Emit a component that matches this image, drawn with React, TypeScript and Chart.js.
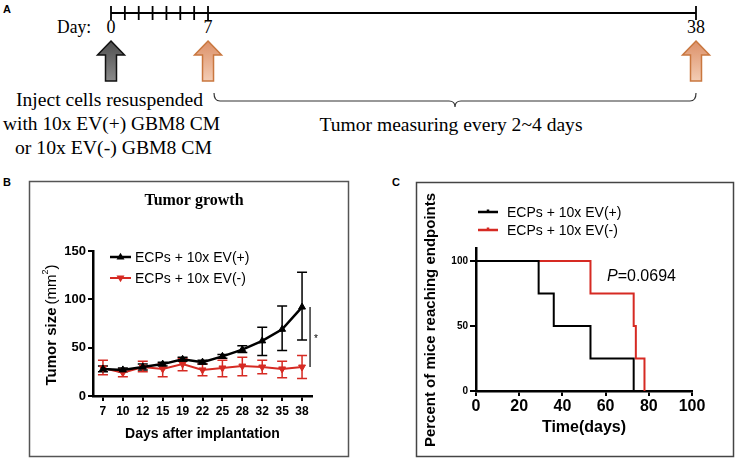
import React, { useEffect, useRef } from "react";
import { Chart, registerables } from "chart.js";

Chart.register(...registerables);

const SANS = "'Liberation Sans', Arial, sans-serif";
const SERIF = "'Liberation Serif', 'Times New Roman', serif";
const RED = "#d62a23";
const BLACK = "#000000";

// ---------- Panel A (timeline schematic) ----------
const timelineTickDays = [0, 1, 2, 3, 4, 5, 6, 7, 38];
const timelineLabelDays = [0, 7, 38];
const injectionDays = [0];
const measureDays = [7, 38];

// ---------- Panel B (tumor growth) ----------
const growthDays = ["7", "10", "12", "15", "19", "22", "25", "28", "32", "35", "38"];
const evPlusMean = [28, 27, 30, 33, 38, 35, 41, 48, 57, 69, 92];
const evPlusLow = [25, 25, 27, 31, 36, 33, 39, 45, 42, 47, 58];
const evPlusHigh = [31, 29, 33, 35, 40, 37, 43, 52, 71, 93, 128];
const evMinusMean = [29, 24, 30, 28, 33, 27, 29, 31, 30, 28, 30];
const evMinusLow = [22, 20, 25, 20, 26, 21, 20, 21, 23, 19, 18];
const evMinusHigh = [37, 28, 36, 34, 39, 33, 37, 40, 37, 36, 42];
const growthYTicks = [0, 50, 100, 150];

// ---------- Panel C (Kaplan-Meier) ----------
const kmPlusTime = [0, 29, 36, 53, 73];
const kmPlusPct = [100, 75, 50, 25, 0];
const kmMinusTime = [0, 53, 73, 74, 78];
const kmMinusPct = [100, 75, 50, 25, 0];
const kmYTicks = [0, 50, 100];
const seriesLabels = ["ECPs + 10x EV(+)", "ECPs + 10x EV(-)"];
const pValueText = "0.0694";

// timeline mapping for schematic (non-linear: days 0-7 expanded)
const tlX = (d: number) => (d <= 7 ? 111 + d * 13.86 : 208 + ((d - 7) / 31) * 488);

function Arrow({ cx, fill, stroke }: { cx: number; fill: string; stroke: string }) {
  const d = `M${cx},41 L${cx + 13.5},55 L${cx + 5.5},55 L${cx + 5.5},81 L${cx - 5.5},81 L${cx - 5.5},55 L${cx - 13.5},55 Z`;
  return <path d={d} fill={fill} stroke={stroke} strokeWidth={1.5} strokeLinejoin="miter" />;
}

function drawTriangle(ctx: CanvasRenderingContext2D, x: number, y: number, r: number, down: boolean) {
  const s = down ? -1 : 1;
  ctx.beginPath();
  ctx.moveTo(x, y - s * r);
  ctx.lineTo(x + r * 0.95, y + s * r * 0.6);
  ctx.lineTo(x - r * 0.95, y + s * r * 0.6);
  ctx.closePath();
  ctx.fill();
}

const growthPlugin = {
  id: "growthDecor",
  beforeDatasetsDraw(chart: any) {
    const { ctx } = chart;
    const x = chart.scales.x;
    const y = chart.scales.y;
    const draw = (lo: number[], hi: number[], color: string) => {
      ctx.save();
      ctx.strokeStyle = color;
      ctx.lineWidth = 1.5;
      lo.forEach((l, i) => {
        const px = x.getPixelForValue(i);
        const pl = y.getPixelForValue(l);
        const ph = y.getPixelForValue(hi[i]);
        ctx.beginPath();
        ctx.moveTo(px, pl);
        ctx.lineTo(px, ph);
        ctx.moveTo(px - 5, pl);
        ctx.lineTo(px + 5, pl);
        ctx.moveTo(px - 5, ph);
        ctx.lineTo(px + 5, ph);
        ctx.stroke();
      });
      ctx.restore();
    };
    draw(evMinusLow, evMinusHigh, RED);
    draw(evPlusLow, evPlusHigh, BLACK);
  },
  afterDraw(chart: any) {
    const { ctx, chartArea } = chart;
    const x = chart.scales.x;
    const y = chart.scales.y;
    ctx.save();
    // title
    ctx.fillStyle = "#000";
    ctx.font = `bold 16px ${SERIF}`;
    ctx.textAlign = "center";
    ctx.textBaseline = "middle";
    ctx.fillText("Tumor growth", 165, 20);

    // legend
    const legendRows = [
      { y: 76, color: BLACK, down: false, lw: 2.5 },
      { y: 97, color: RED, down: true, lw: 2 },
    ];
    legendRows.forEach((r, i) => {
      ctx.strokeStyle = r.color;
      ctx.fillStyle = r.color;
      ctx.lineWidth = r.lw;
      ctx.beginPath();
      ctx.moveTo(81, r.y);
      ctx.lineTo(102, r.y);
      ctx.stroke();
      drawTriangle(ctx, 91.5, r.y, 4.2, r.down);
      ctx.fillStyle = "#000";
      ctx.font = `14px ${SANS}`;
      ctx.textAlign = "left";
      ctx.textBaseline = "middle";
      ctx.fillText(seriesLabels[i], 106, r.y + 1);
    });

    // significance bar
    const last = growthDays.length - 1;
    const sx = x.getPixelForValue(last) + 8;
    const y1 = y.getPixelForValue(evPlusMean[last]);
    const y2 = y.getPixelForValue(evMinusMean[last]);
    ctx.strokeStyle = "#000";
    ctx.lineWidth = 1.2;
    ctx.beginPath();
    ctx.moveTo(sx, y1);
    ctx.lineTo(sx, y2);
    ctx.stroke();
    ctx.fillStyle = "#000";
    ctx.font = `10px ${SANS}`;
    ctx.textAlign = "left";
    ctx.textBaseline = "middle";
    ctx.fillText("*", sx + 4, (y1 + y2) / 2 + 2);

    // x title
    ctx.font = `bold 14px ${SANS}`;
    ctx.textAlign = "center";
    ctx.textBaseline = "middle";
    ctx.fillText("Days after implantation", (chartArea.left + chartArea.right) / 2, 253);

    // y title
    ctx.translate(22, 144);
    ctx.rotate(-Math.PI / 2);
    const pieces = [
      { t: "Tumor size", f: `bold 15px ${SANS}`, dy: 0 },
      { t: "\u2009(mm", f: `15px ${SANS}`, dy: 0 },
      { t: "2", f: `9px ${SANS}`, dy: -6 },
      { t: ")", f: `15px ${SANS}`, dy: 0 },
    ];
    let total = 0;
    const widths = pieces.map((p) => {
      ctx.font = p.f;
      const w = ctx.measureText(p.t).width;
      total += w;
      return w;
    });
    let cx = -total / 2;
    ctx.textAlign = "left";
    ctx.textBaseline = "middle";
    pieces.forEach((p, i) => {
      ctx.font = p.f;
      ctx.fillText(p.t, cx, p.dy + 1);
      cx += widths[i];
    });
    ctx.restore();
  },
};

const kmPlugin = {
  id: "kmDecor",
  afterDraw(chart: any) {
    const { ctx, chartArea } = chart;
    ctx.save();
    const rows = [
      { y: 30, color: BLACK },
      { y: 48, color: RED },
    ];
    rows.forEach((r, i) => {
      ctx.strokeStyle = r.color;
      ctx.lineWidth = 2.5;
      ctx.beginPath();
      ctx.moveTo(62, r.y);
      ctx.lineTo(82, r.y);
      ctx.moveTo(72, r.y - 2.5);
      ctx.lineTo(72, r.y);
      ctx.stroke();
      ctx.fillStyle = "#000";
      ctx.font = `14px ${SANS}`;
      ctx.textAlign = "left";
      ctx.textBaseline = "middle";
      ctx.fillText(seriesLabels[i], 91, r.y + 1);
    });

    // P value
    ctx.font = `italic 16px ${SANS}`;
    ctx.textAlign = "left";
    ctx.textBaseline = "middle";
    ctx.fillText("P", 191, 95);
    const pw = ctx.measureText("P").width;
    ctx.font = `16px ${SANS}`;
    ctx.fillText("=" + pValueText, 191 + pw, 95);

    // x title
    ctx.font = `bold 16px ${SANS}`;
    ctx.textAlign = "center";
    ctx.fillText("Time(days)", (chartArea.left + chartArea.right) / 2, 246);

    // y title
    ctx.translate(14, 138);
    ctx.rotate(-Math.PI / 2);
    ctx.font = `bold 15px ${SANS}`;
    ctx.fillText("Percent of mice reaching endpoints", 0, 1);
    ctx.restore();
  },
};

export default function App() {
  const growthRef = useRef<HTMLCanvasElement>(null);
  const kmRef = useRef<HTMLCanvasElement>(null);

  useEffect(() => {
    Chart.defaults.font.family = SANS;
    Chart.defaults.color = "#000";

    const axisGrid = (len: number) => ({
      drawOnChartArea: false,
      drawTicks: true,
      tickLength: len,
      color: "#000",
      lineWidth: 2,
    });

    const growth = new Chart(growthRef.current!, {
      type: "line",
      data: {
        labels: growthDays,
        datasets: [
          {
            label: seriesLabels[0],
            data: evPlusMean,
            borderColor: BLACK,
            backgroundColor: BLACK,
            borderWidth: 2.5,
            pointStyle: "triangle",
            pointRadius: 4,
            pointBorderWidth: 1,
            tension: 0,
          },
          {
            label: seriesLabels[1],
            data: evMinusMean,
            borderColor: RED,
            backgroundColor: RED,
            borderWidth: 2,
            pointStyle: "triangle",
            pointRotation: 180,
            pointRadius: 4,
            pointBorderWidth: 1,
            tension: 0,
          },
        ],
      },
      options: {
        responsive: false,
        animation: false,
        layout: { padding: { top: 70, right: 37, bottom: 0, left: 0 } },
        plugins: { legend: { display: false }, tooltip: { enabled: false } },
        scales: {
          x: {
            type: "category",
            offset: true,
            grid: { ...axisGrid(5), offset: false },
            border: { display: true, color: "#000", width: 2.5 },
            ticks: { color: "#000", font: { weight: "bold", size: 12 }, padding: 3, maxRotation: 0, autoSkip: false },
            afterFit: (s: any) => {
              s.height = 61;
            },
          },
          y: {
            min: 0,
            max: 150,
            afterBuildTicks: (s: any) => {
              s.ticks = growthYTicks.map((v) => ({ value: v }));
            },
            grid: axisGrid(5),
            border: { display: true, color: "#000", width: 2.5 },
            ticks: { color: "#000", font: { weight: "bold", size: 13 }, padding: 2 },
            afterFit: (s: any) => {
              s.width = 64;
            },
          },
        },
      } as any,
      plugins: [growthPlugin],
    });

    const km = new Chart(kmRef.current!, {
      type: "line",
      data: {
        datasets: [
          {
            label: seriesLabels[0],
            data: kmPlusTime.map((t, i) => ({ x: t, y: kmPlusPct[i] })),
            borderColor: BLACK,
            borderWidth: 2,
            stepped: true,
            pointRadius: 0,
          },
          {
            label: seriesLabels[1],
            data: kmMinusTime.map((t, i) => ({ x: t, y: kmMinusPct[i] })),
            borderColor: RED,
            borderWidth: 2,
            stepped: true,
            pointRadius: 0,
          },
        ],
      },
      options: {
        responsive: false,
        animation: false,
        layout: { padding: { top: 66, right: 42, bottom: 0, left: 0 } },
        plugins: { legend: { display: false }, tooltip: { enabled: false } },
        scales: {
          x: {
            type: "linear",
            min: 0,
            max: 100,
            grid: axisGrid(5),
            border: { display: true, color: "#000", width: 2.5 },
            ticks: { stepSize: 20, color: "#000", font: { weight: "bold", size: 16 }, padding: 1 },
            afterFit: (s: any) => {
              s.height = 66;
            },
          },
          y: {
            type: "linear",
            min: 0,
            max: 110,
            afterBuildTicks: (s: any) => {
              s.ticks = kmYTicks.map((v) => ({ value: v }));
            },
            grid: axisGrid(6),
            border: { display: true, color: "#000", width: 2.5 },
            ticks: { color: "#000", font: { weight: "bold", size: 10 }, padding: 2 },
            afterFit: (s: any) => {
              s.width = 60;
            },
          },
        },
      } as any,
      plugins: [kmPlugin],
    });

    return () => {
      growth.destroy();
      km.destroy();
    };
  }, []);

  const serif = { fontFamily: SERIF };
  const x7 = tlX(7);
  const x38 = tlX(38);
  const mid = (x7 + 6 + x38) / 2;

  return (
    <div
      style={{
        position: "fixed",
        left: 0,
        top: 0,
        width: 736,
        height: 459,
        background: "#fff",
        overflow: "hidden",
      }}
    >
      <svg width={736} height={459} style={{ position: "absolute", left: 0, top: 0 }}>
        <defs>
          <linearGradient id="gGray" x1="0" y1="0" x2="0" y2="1">
            <stop offset="0" stopColor="#4e4e4e" />
            <stop offset="1" stopColor="#8a8a8a" />
          </linearGradient>
          <linearGradient id="gOrange" x1="0" y1="0" x2="0" y2="1">
            <stop offset="0" stopColor="#dc9068" />
            <stop offset="1" stopColor="#f3ccb4" />
          </linearGradient>
        </defs>
        {/* panel letters */}
        <text x={3} y={13} fontFamily={SANS} fontWeight="bold" fontSize={11}>A</text>
        <text x={3} y={186} fontFamily={SANS} fontWeight="bold" fontSize={11}>B</text>
        <text x={392} y={186} fontFamily={SANS} fontWeight="bold" fontSize={11}>C</text>

        {/* timeline */}
        <line x1={tlX(0)} y1={13} x2={x38} y2={13} stroke="#000" strokeWidth={2} />
        {timelineTickDays.map((d) => (
          <line key={d} x1={tlX(d)} y1={6} x2={tlX(d)} y2={20} stroke="#000" strokeWidth={1.8} />
        ))}
        <text x={57} y={33} fontSize={18} style={serif} textLength={34} lengthAdjust="spacingAndGlyphs">Day:</text>
        {timelineLabelDays.map((d) => (
          <text key={d} x={tlX(d)} y={33} fontSize={18} textAnchor="middle" style={serif}>
            {d}
          </text>
        ))}
        {injectionDays.map((d) => (
          <Arrow key={"i" + d} cx={tlX(d)} fill="url(#gGray)" stroke="#111" />
        ))}
        {measureDays.map((d) => (
          <Arrow key={"m" + d} cx={tlX(d)} fill="url(#gOrange)" stroke="#c9773f" />
        ))}
        <text x={109.5} y={106} fontSize={19.5} textAnchor="middle" style={serif} textLength={187} lengthAdjust="spacingAndGlyphs">
          Inject cells resuspended
        </text>
        <text x={111.5} y={130} fontSize={19.5} textAnchor="middle" style={serif} textLength={217} lengthAdjust="spacingAndGlyphs">
          with 10x EV(+) GBM8 CM
        </text>
        <text x={113.5} y={154} fontSize={19.5} textAnchor="middle" style={serif} textLength={197} lengthAdjust="spacingAndGlyphs">
          or 10x EV(-) GBM8 CM
        </text>
        <path
          d={`M${x7 + 6},93 Q${x7 + 6},101 ${x7 + 12},101 H${mid - 6} Q${mid},101 ${mid},107 Q${mid},101 ${mid + 6},101 H${x38 - 6} Q${x38},101 ${x38},93`}
          fill="none"
          stroke="#333"
          strokeWidth={1.2}
        />
        <text x={451} y={131} fontSize={19.5} textAnchor="middle" style={serif} textLength={263} lengthAdjust="spacingAndGlyphs">
          Tumor measuring every 2~4 days
        </text>

        {/* panel boxes */}
        <rect x={29.5} y={181.5} width={319} height={275} fill="none" stroke="#555" strokeWidth={1.5} />
        <rect x={416.5} y={182.5} width={317} height={274} fill="none" stroke="#444" strokeWidth={1.5} />
      </svg>
      <canvas
        ref={growthRef}
        width={320}
        height={276}
        style={{ position: "absolute", left: 29, top: 181, width: 320, height: 276 }}
      />
      <canvas
        ref={kmRef}
        width={318}
        height={275}
        style={{ position: "absolute", left: 416, top: 182, width: 318, height: 275 }}
      />
    </div>
  );
}
